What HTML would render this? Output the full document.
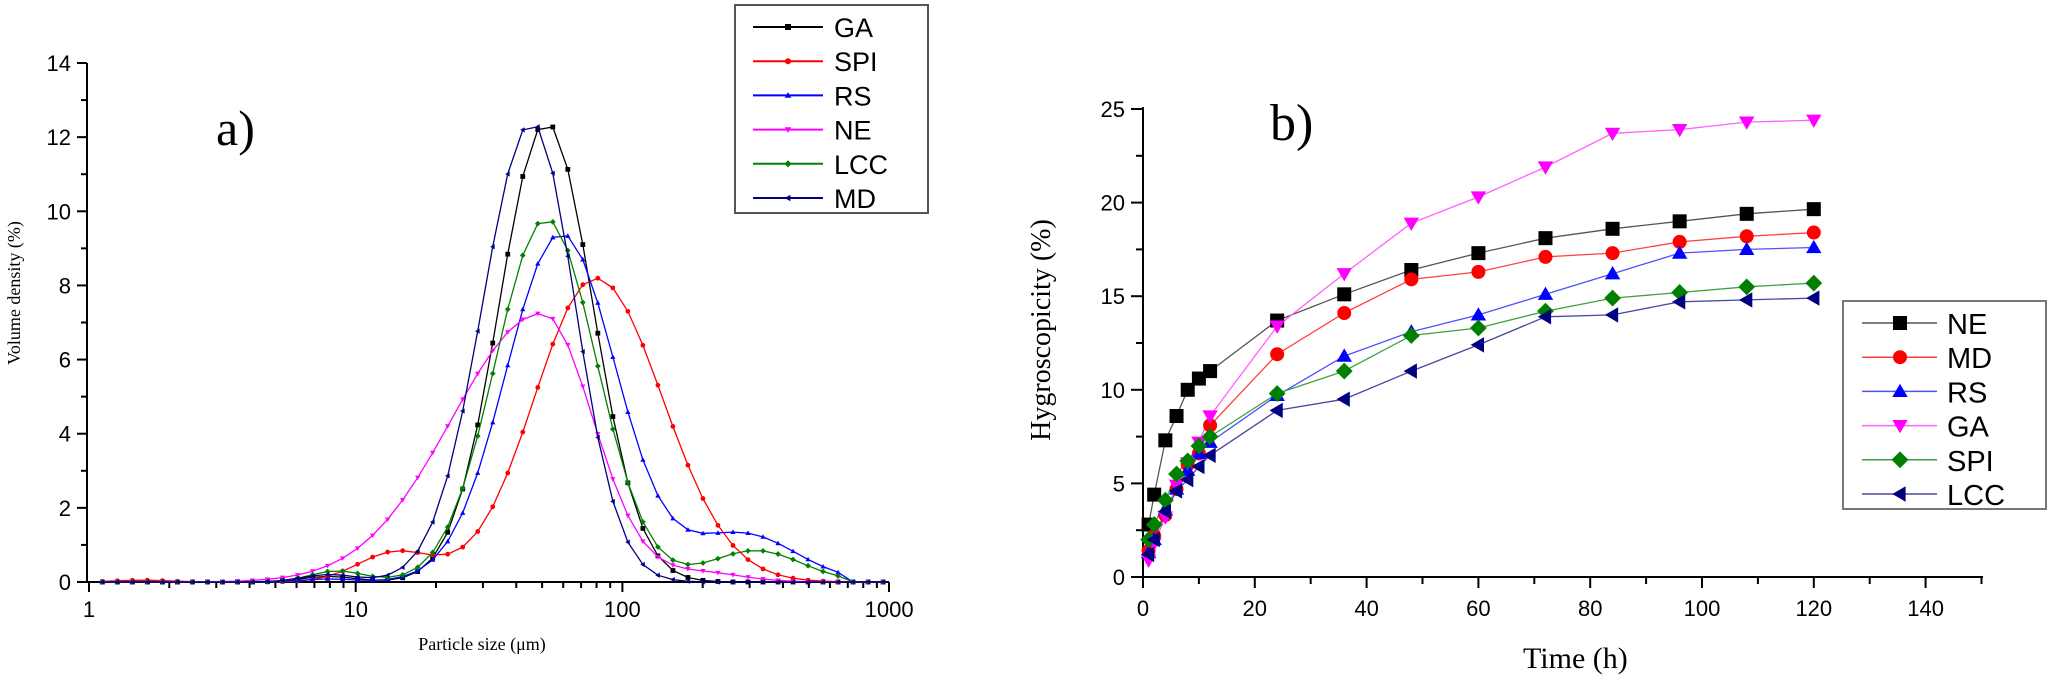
<!DOCTYPE html>
<html><head><meta charset="utf-8">
<style>
html,body{margin:0;padding:0;background:#fff;}
svg{display:block;}
.t{font-family:"Liberation Sans",Arial,sans-serif;fill:#000;}
.s{font-family:"Liberation Serif","Times New Roman",serif;fill:#000;}
</style></head>
<body>
<svg id="c" width="2050" height="680" xmlns="http://www.w3.org/2000/svg"></svg>
<script>
const S=document.getElementById('c');let h='';
function ln(x1,y1,x2,y2,c,w){h+=`<line x1="${x1}" y1="${y1}" x2="${x2}" y2="${y2}" stroke="${c||'#000'}" stroke-width="${w||2}"/>`;}
function tx(x,y,t,cl,fs,anc,extra){h+=`<text x="${x}" y="${y}" class="${cl}" font-size="${fs}" text-anchor="${anc||'start'}" ${extra||''}>${t}</text>`;}
function mk(type,x,y,r,c){
 if(type=='sq')h+=`<rect x="${x-r}" y="${y-r}" width="${2*r}" height="${2*r}" fill="${c}"/>`;
 else if(type=='ci')h+=`<circle cx="${x}" cy="${y}" r="${r}" fill="${c}"/>`;
 else if(type=='up')h+=`<polygon points="${x},${y-r*1.1} ${x-r*1.1},${y+r*0.8} ${x+r*1.1},${y+r*0.8}" fill="${c}"/>`;
 else if(type=='dn')h+=`<polygon points="${x},${y+r*1.1} ${x-r*1.1},${y-r*0.8} ${x+r*1.1},${y-r*0.8}" fill="${c}"/>`;
 else if(type=='di')h+=`<polygon points="${x},${y-r*1.2} ${x+r*1.2},${y} ${x},${y+r*1.2} ${x-r*1.2},${y}" fill="${c}"/>`;
 else if(type=='lt')h+=`<polygon points="${x-r*1.1},${y} ${x+r*0.8},${y-r*1.1} ${x+r*0.8},${y+r*1.1}" fill="${c}"/>`;
}
/* ---------- Chart a ---------- */
const AX0=87,AY0=582,AY1=63;
const ay=v=>AY0-(AY0-AY1)*v/14;
const axl=l=>89+266.7*l;
// y axis
ln(AX0,AY1,AX0,AY0+1);
for(let v=0;v<=14;v++){const y=ay(v);ln(v%2?AX0-6:AX0-10,y,AX0,y);if(v%2==0)tx(AX0-16,y+8,v,'t',22,'end');}
// x axis
ln(AX0,AY0,889,AY0);
for(let d=0;d<3;d++)for(let k=1;k<=9;k++){const x=axl(d+Math.log10(k));ln(x,AY0,x,AY0+(k==1?10:6));}
ln(889,AY0,889,AY0+10);
['1','10','100','1000'].forEach((t,i)=>tx(axl(i),617,t,'t',22,'middle'));
tx(482,650,'Particle size (μm)','s',18,'middle');
tx(20,293,'Volume density (%)','s',18,'middle','transform="rotate(-90 20 293)"');
tx(216,145,'a)','s',50);
function g(l,c,s){return Math.exp(-0.5*((l-c)/s)**2);}
function ga(l,c,sl,sr){return Math.exp(-0.5*((l-c)/(l<c?sl:sr))**2);}
const series=[
 {c:'#000',m:'sq',f:l=>12.4*g(l,1.714,0.175)+0.15*g(l,0.9,0.1)},
 {c:'#ff0000',m:'ci',f:l=>8.2*ga(l,1.9,0.23,0.25)+0.8*g(l,1.15,0.14)+0.05*g(l,0.2,0.1)},
 {c:'#0000ff',m:'up',f:l=>9.4*g(l,1.77,0.205)+1.3*g(l,2.45,0.2)*(l<2.82?1:0)+0.08*g(l,0.9,0.1)},
 {c:'#ff00ff',m:'dn',f:l=>7.25*ga(l,1.70,0.34,0.19)+0.25*g(l,2.3,0.15)},
 {c:'#008000',m:'di',f:l=>9.8*g(l,1.714,0.19)+0.85*g(l,2.5,0.17)+0.3*g(l,0.93,0.1)},
 {c:'#000080',m:'lt',f:l=>12.4*ga(l,1.66,0.184,0.163)+0.2*g(l,0.9,0.1)}
];
const step=0.0563;
series.forEach(s=>{let pts=[];for(let l=0.05;l<=3.0;l+=step){let v=s.f(l);if(l>2.84)v=0;if(v<0.005)v=0;pts.push([axl(l),ay(v)]);}
 h+=`<polyline points="${pts.map(p=>p[0].toFixed(1)+','+p[1].toFixed(1)).join(' ')}" fill="none" stroke="${s.c}" stroke-width="1.3"/>`;
 pts.forEach(p=>mk(s.m,p[0],p[1],2.4,s.c));});
// legend a
h+=`<rect x="735" y="5" width="193" height="208" fill="#fff" stroke="#555" stroke-width="2"/>`;
['GA','SPI','RS','NE','LCC','MD'].forEach((n,i)=>{const y=27+i*34.2;const s=series[i];ln(753,y,823,y,s.c,2);mk(s.m,788,y,3,s.c);tx(834,y+10,n,'t',27);});
/* ---------- Chart b ---------- */
const BX0=1143,BY0=577,BY1=109;
const by=v=>BY0-(BY0-BY1)*v/25, bx=t=>BX0+5.59*t;
ln(BX0,BY1-2,BX0,BY0+1);
for(let v=0;v<=25;v+=2.5){const y=by(v);ln(v%5?BX0-7:BX0-12,y,BX0,y);if(v%5==0)tx(BX0-18,y+8,v,'t',22,'end');}
ln(BX0,BY0,1983,BY0);
for(let t=0;t<=150;t+=10){const x=bx(t);ln(x,BY0,x,BY0+(t%20?7:11));if(t%20==0&&t<=140)tx(x,616,t,'t',22,'middle');}
tx(1523,668,'Time (h)','s',30);
tx(1050,330,'Hygroscopicity (%)','s',28,'middle','transform="rotate(-90 1050 330)"');
tx(1270,140,'b)','s',52);
const T=[1,2,4,6,8,10,12,24,36,48,60,72,84,96,108,120];
const B=[
 {n:'NE',c:'#000',lc:'#555',m:'sq',d:[2.8,4.4,7.3,8.6,10.0,10.6,11.0,13.7,15.1,16.4,17.3,18.1,18.6,19.0,19.4,19.65]},
 {n:'MD',c:'#ff0000',lc:'#ff4040',m:'ci',d:[1.4,2.2,3.3,4.7,6.0,6.6,8.1,11.9,14.1,15.9,16.3,17.1,17.3,17.9,18.2,18.4]},
 {n:'RS',c:'#0000ff',lc:'#5050ff',m:'up',d:[1.3,2.0,3.6,4.7,5.7,6.6,7.2,9.7,11.8,13.1,14.0,15.1,16.2,17.3,17.5,17.6]},
 {n:'GA',c:'#ff00ff',lc:'#ff60ff',m:'dn',d:[0.9,1.8,3.2,4.9,6.1,7.2,8.6,13.4,16.2,18.9,20.3,21.9,23.7,23.9,24.3,24.4]},
 {n:'SPI',c:'#008000',lc:'#40a040',m:'di',d:[2.0,2.8,4.1,5.5,6.2,7.0,7.5,9.8,11.0,12.9,13.3,14.2,14.9,15.2,15.5,15.7]},
 {n:'LCC',c:'#000080',lc:'#4848a0',m:'lt',d:[1.2,2.0,3.5,4.6,5.2,5.9,6.5,8.9,9.5,11.0,12.4,13.9,14.0,14.7,14.8,14.9]}
];
B.forEach(s=>{const pts=T.map((t,i)=>[bx(t),by(s.d[i])]);
 h+=`<polyline points="${pts.map(p=>p[0].toFixed(1)+','+p[1].toFixed(1)).join(' ')}" fill="none" stroke="${s.lc}" stroke-width="1.3"/>`;});
B.forEach(s=>T.forEach((t,i)=>mk(s.m,bx(t),by(s.d[i]),7,s.c)));
// legend b
h+=`<rect x="1843" y="301" width="203" height="208" fill="#fff" stroke="#777" stroke-width="2"/>`;
B.forEach((s,i)=>{const y=323+i*34.2;ln(1862,y,1937,y,s.lc,1.5);mk(s.m,1900,y,7,s.c);tx(1947,y+11,s.n,'t',29);});
S.innerHTML=h;
</script>
</body></html>
